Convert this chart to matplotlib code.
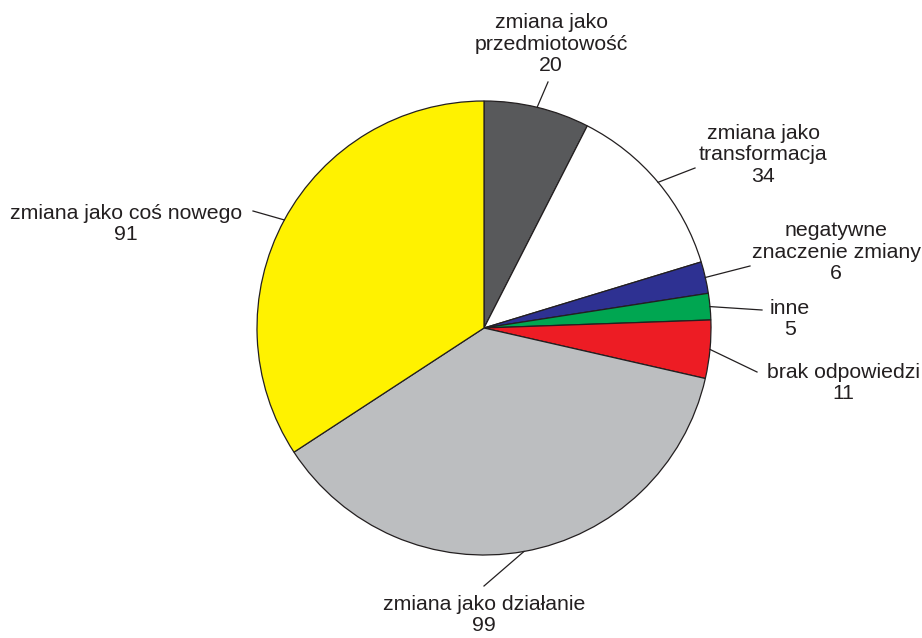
import numpy as np
import matplotlib.pyplot as plt

plt.rcParams['font.family'] = ['Liberation Sans', 'DejaVu Sans']

labels = ['zmiana jako\nprzedmiotowość', 'zmiana jako\ntransformacja',
          'negatywne\nznaczenie zmiany', 'inne', 'brak odpowiedzi',
          'zmiana jako działanie', 'zmiana jako coś nowego']
values = [20, 34, 6, 5, 11, 99, 91]
colors = ['#58595b', '#ffffff', '#2e3192', '#00a651', '#ed1c24', '#bcbec0', '#fff200']

# label text centres and leader line ends (pixel coords, y down)
text_pos = [(551, 44), (763, 155), (836, 252), (790, 319), (843, 383), (484, 615), (126, 224)]
line_end = [(548, 82), (695, 168), (750, 266), (762, 310), (757, 372), (484, 586), (253, 211)]

W, H = 922, 638
fig = plt.figure(figsize=(W / 100, H / 100), dpi=100)
ax = fig.add_axes([0, 0, 1, 1])

cx, cy, r = 484, H - 328, 227
wedges, _ = ax.pie(values, colors=colors, startangle=90, counterclock=False,
                   center=(cx, cy), radius=r, frame=True,
                   wedgeprops=dict(edgecolor='#231f20', linewidth=0.9))
ax.set_xlim(0, W)
ax.set_ylim(0, H)
ax.set_aspect('equal')
ax.axis('off')

for w, lab, v, tp, le in zip(wedges, labels, values, text_pos, line_end):
    mid = np.deg2rad((w.theta1 + w.theta2) / 2)
    x0, y0 = cx + r * np.cos(mid), cy + r * np.sin(mid)
    ax.plot([x0, le[0]], [y0, H - le[1]], color='#231f20', lw=0.9)
    ax.text(tp[0], H - tp[1], f'{lab}\n{v}', ha='center', va='center',
            fontsize=15.3, color='#231f20', linespacing=1.15)

fig.savefig('out.png', dpi=100)
